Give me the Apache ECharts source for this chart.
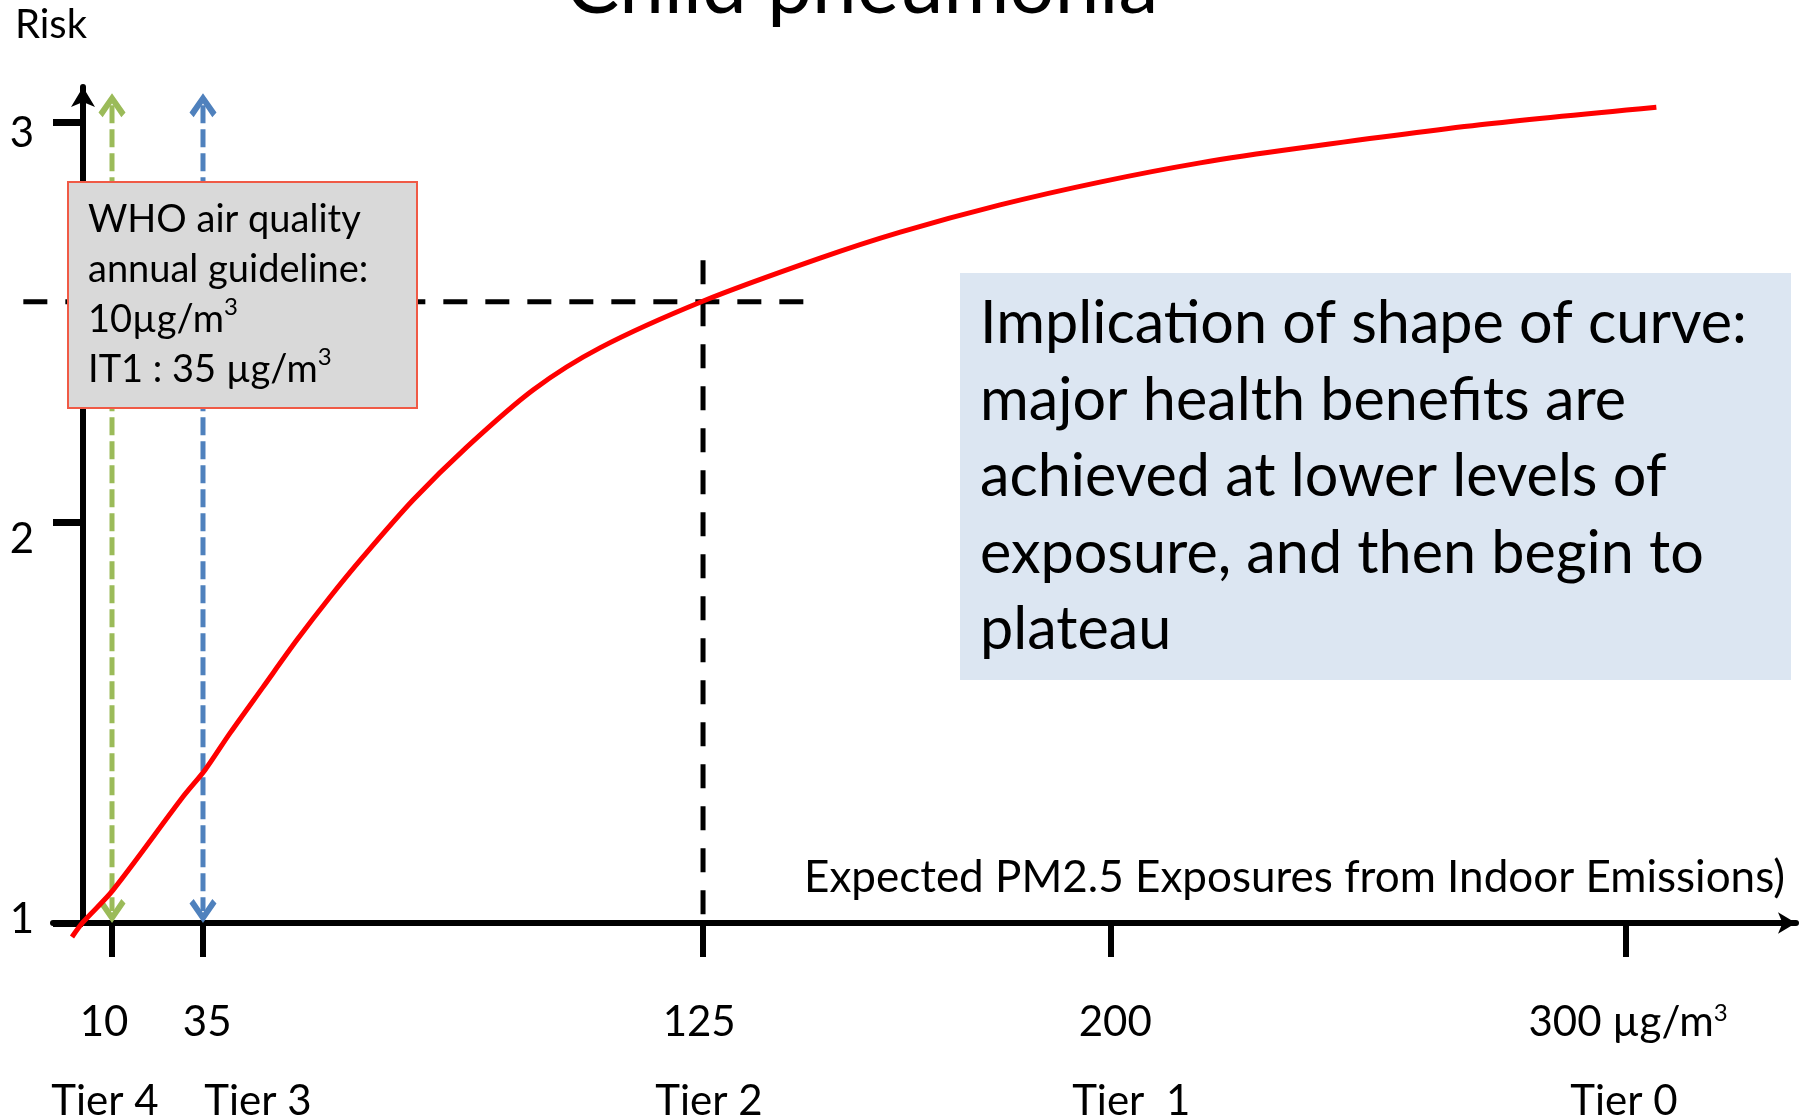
<!DOCTYPE html>
<html><head><meta charset="utf-8">
<script src="https://cdn.jsdelivr.net/npm/echarts@6/dist/echarts.min.js"></script>
<style>html,body{margin:0;padding:0;background:#fff}#c{width:1812px;height:1116px}</style>
</head><body><div id="c"></div>
<script>
// ---- data (schematic x positions along the exposure axis; risk on y) ----
const xTickPos = [5.64, 23.33, 120.55, 199.9, 300];
const xLabelPos = [4.09, 24.15, 119.8, 200.7, 300.4];
const xTickLabels = ['10', '35', '125', '200', '300 µg/m³'];
const tierPos = [4.28, 34.03, 121.7, 203.8, 299.6];
const tierLabels = ['Tier 4', 'Tier 3', 'Tier 2', 'Tier  1', 'Tier 0'];
const yTicks = [1, 2, 3];
const yLabelPos = [1.01, 1.9588, 2.9725];
const yTickLabels = ['1', '2', '3'];

const curveX = [-2.14, 0, 5.83, 19.44, 23.72, 28.58, 35.0, 41.61, 48.03, 54.44, 64.17, 74.66, 87.5, 100.5, 120.6, 143.3, 158.9, 178.3, 197.7, 217.2, 236.6, 271.6, 305.9];
const curveY = [0.965, 1.002, 1.082, 1.315, 1.382, 1.474, 1.589, 1.707, 1.814, 1.914, 2.056, 2.189, 2.331, 2.436, 2.553, 2.660, 2.725, 2.793, 2.850, 2.898, 2.935, 2.993, 3.037];

const guideRisk = 2.551;        // risk at 125 µg/m³
const guideXStart = -11.6, guideXEnd = 141.4;
const guideTopRisk = 2.655;
const arrowLow = 1.03, arrowHigh = 3.042;

const xMin = -5.833, xMax = 333.05, yMin = 1, yMax = 3.0874;
const xMinWide = -11.666;

const FONT = 'Lato';
const CHEV = 'path://M13,0 L26,17 L22,21 L13,9 L4,21 L0,17 Z';
const sup = s => s.replace(/³/g, '{s|3}');

const chart = echarts.init(document.getElementById('c'), null, {renderer: 'canvas'});

function arrowSeries(xv, color) {
  return {
    type: 'line', silent: true, clip: false, z: 3,
    symbolSize: [27, 24], showSymbol: true,
    lineStyle: {color: color, width: 5, type: [18, 6]},
    itemStyle: {color: color},
    data: [
      {value: [xv, arrowHigh], symbol: CHEV, symbolRotate: 0},
      {value: [xv, arrowLow], symbol: CHEV, symbolRotate: 180}
    ]
  };
}

const option = {
  animation: false,
  backgroundColor: '#ffffff',
  textStyle: {fontFamily: FONT},
  grid: [
    {left: 53, right: 16, top: 87, bottom: 193, containLabel: false, outerBoundsMode: 'none'},
    {left: 23, right: 16, top: 87, bottom: 193, containLabel: false, outerBoundsMode: 'none'}
  ],
  xAxis: [{
    type: 'value', gridIndex: 0, min: xMin, max: xMax, position: 'bottom',
    splitLine: {show: false},
    axisLine: {show: true, onZero: false, symbol: ['none', 'arrow'], symbolSize: [16, 18],
      lineStyle: {color: '#000', width: 6}},
    axisTick: {show: true, length: 34, customValues: xTickPos, lineStyle: {color: '#000', width: 6}},
    axisLabel: {show: true, customValues: xLabelPos, margin: 78, fontSize: 42, lineHeight: 42, color: '#000', fontFamily: FONT,
      rich: {s: {fontSize: 24, lineHeight: 24, verticalAlign: 'top', fontFamily: FONT, color: '#000'}},
      formatter: v => { const i = xLabelPos.indexOf(v); return i >= 0 ? sup(xTickLabels[i]) : ''; }},
    name: 'Expected PM2.5 Exposures from Indoor Emissions)',
    nameLocation: 'end', nameGap: -11,
    nameTextStyle: {fontSize: 44, fontFamily: FONT, color: '#000', align: 'right', verticalAlign: 'bottom',
      lineHeight: 44, padding: [0, 0, 23, 0]}
  }, {
    type: 'value', gridIndex: 0, min: xMin, max: xMax, position: 'bottom', offset: 0,
    splitLine: {show: false}, axisLine: {show: false}, axisTick: {show: false},
    axisLabel: {show: true, customValues: tierPos, margin: 157, fontSize: 42, color: '#000', fontFamily: FONT,
      formatter: v => { const i = tierPos.indexOf(v); return i >= 0 ? tierLabels[i] : ''; }}
  }, {
    type: 'value', gridIndex: 1, min: xMinWide, max: xMax, show: false
  }],
  yAxis: [{
    type: 'value', gridIndex: 0, min: yMin, max: yMax,
    splitLine: {show: false},
    axisLine: {show: true, onZero: true, symbol: ['none', 'arrow'], symbolSize: [18, 20],
      lineStyle: {color: '#000', width: 6}},
    axisTick: {show: true, length: 30, customValues: yTicks, lineStyle: {color: '#000', width: 7}},
    axisLabel: {show: true, customValues: yLabelPos, margin: 19, fontSize: 42, color: '#000', fontFamily: FONT,
      padding: [12, 0, 0, 0],
      formatter: v => { const i = yLabelPos.indexOf(v); return i >= 0 ? yTickLabels[i] : ''; }},
    name: 'Risk', nameLocation: 'end', nameGap: 42,
    nameTextStyle: {fontSize: 40, fontFamily: FONT, color: '#000', align: 'center', padding: [0, 64, 0, 0]}
  }, {
    type: 'value', gridIndex: 1, min: yMin, max: yMax, show: false
  }],
  series: [
    {
      type: 'line', silent: true, clip: false, symbol: 'none', z: 2, xAxisIndex: 2, yAxisIndex: 1,
      lineStyle: {color: '#000', width: 5, type: [24, 18]},
      data: [[guideXStart, guideRisk], [guideXEnd, guideRisk]]
    },
    {
      type: 'line', silent: true, clip: false, symbol: 'none', z: 2,
      lineStyle: {color: '#000', width: 5, type: [24, 18]},
      data: [[xTickPos[2], guideTopRisk], [xTickPos[2], yMin]]
    },
    arrowSeries(xTickPos[0], '#9bbb59'),
    arrowSeries(xTickPos[1], '#4f81bd'),
    {
      type: 'line', silent: true, clip: false, symbol: 'none', smooth: 0.3, z: 5,
      lineStyle: {color: '#ff0000', width: 5},
      data: curveX.map((x, i) => [x, curveY[i]])
    }
  ],
  graphic: [
    {type: 'text', silent: true, z: 100, x: 862, y: -13,
      style: {text: 'Child pneumonia', fontSize: 80, fontFamily: FONT, fill: '#000', align: 'center', verticalAlign: 'middle'}},
    {type: 'rect', silent: true, z: 100, shape: {x: 68, y: 182, width: 349, height: 226},
      style: {fill: '#d9d9d9', stroke: '#f05a46', lineWidth: 2}},
    {type: 'text', silent: true, z: 101, x: 88, y: 195,
      style: {text: sup('WHO air quality\nannual guideline:\n10µg/m³\nIT1 : 35 µg/m³'), fontSize: 38, lineHeight: 50,
        fontFamily: FONT, fill: '#000', align: 'left', verticalAlign: 'top',
        rich: {s: {fontSize: 24, lineHeight: 32, verticalAlign: 'top', fontFamily: FONT, fill: '#000'}}}},
    {type: 'rect', silent: true, z: 100, shape: {x: 960, y: 273, width: 831, height: 407},
      style: {fill: '#dce6f2'}},
    {type: 'text', silent: true, z: 101, x: 980, y: 286,
      style: {text: 'Implication of shape of curve:\nmajor health benefits are\nachieved at lower levels of\nexposure, and then begin to\nplateau',
        fontSize: 59.3, lineHeight: 76.5, fontFamily: FONT, fill: '#000', align: 'left', verticalAlign: 'top'}}
  ]
};
chart.setOption(option);
</script>
</body></html>
